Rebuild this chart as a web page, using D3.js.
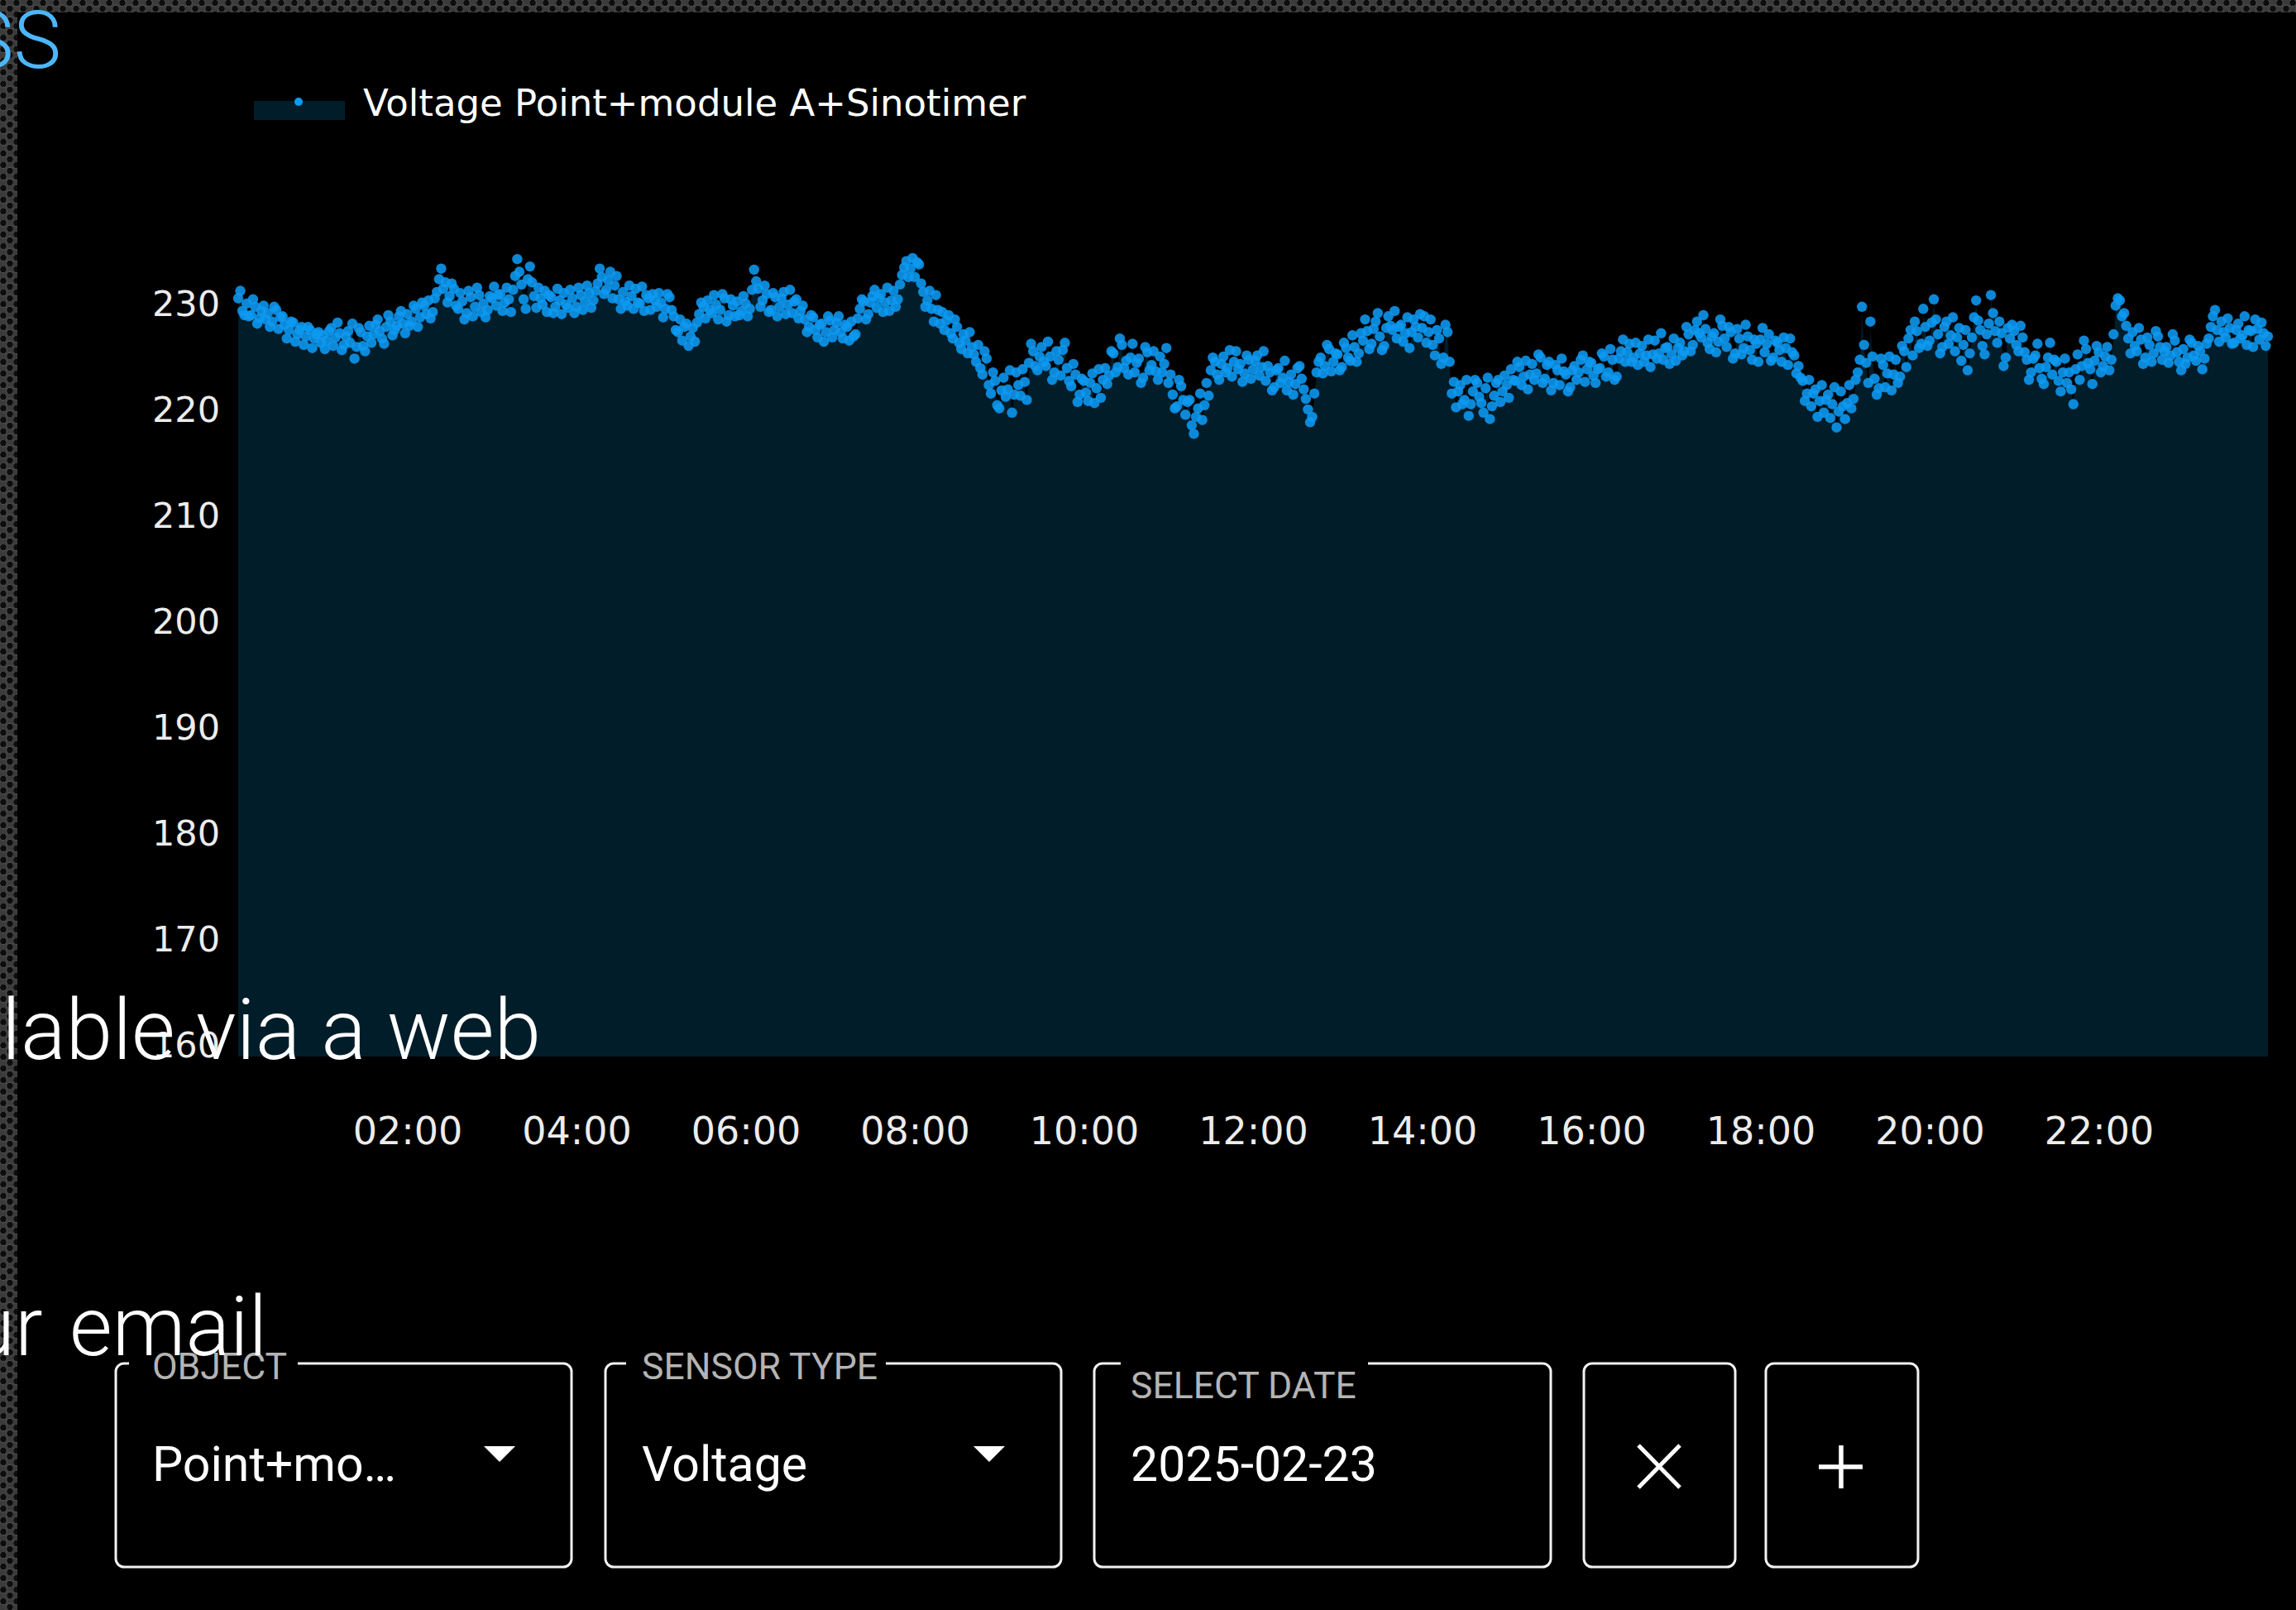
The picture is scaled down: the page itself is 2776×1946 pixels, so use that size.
<!DOCTYPE html>
<html><head><meta charset="utf-8">
<script src="https://cdn.jsdelivr.net/npm/d3@7"></script>
<style>
html,body{margin:0;padding:0;background:#000;overflow:hidden;}
svg{display:block;}
</style></head><body>
<svg id="c" width="2776" height="1946"></svg>
<script>
// ---------------- data ----------------
const seriesName = "Voltage Point+module A+Sinotimer";
const dateLabel = "2025-02-23";
const sampleSeconds = 180;   // samples on the 3-minute marks (voltageA) and 90 s later (voltageB)
const xTickLabels = ["02:00","04:00","06:00","08:00","10:00","12:00","14:00","16:00","18:00","20:00","22:00"];
const yTickValues = [160,170,180,190,200,210,220,230];
const voltageA = [
230.6,229.4,230.1,229.0,229.8,228.7,229.9,229.2,228.4,229.5,228.8,228.1,227.6,228.3,227.2,227.9,227.0,227.6,226.8,227.4,
227.1,226.6,227.8,226.9,227.3,226.2,227.5,228.2,226.0,227.4,225.6,228.0,227.2,228.6,226.8,227.9,228.4,227.6,228.9,228.2,
229.1,228.4,229.6,228.8,229.9,230.4,229.3,231.2,233.4,232.1,230.8,231.5,229.6,230.3,229.2,230.7,229.8,230.9,230.1,229.5,
230.6,229.9,231.0,230.2,230.5,231.4,234.3,231.9,229.6,233.6,230.8,231.6,230.0,229.3,230.7,229.8,230.4,231.1,229.7,230.6,
229.8,230.9,230.3,231.1,230.4,232.0,232.6,231.4,233.1,231.8,230.5,231.2,229.9,230.8,231.5,230.1,229.4,230.6,231.0,229.8,
230.2,229.6,230.7,228.9,227.4,226.6,228.2,227.0,226.5,229.1,229.8,230.4,229.2,230.0,229.5,230.6,229.0,229.9,230.3,229.4,
230.1,229.6,233.3,231.5,230.4,231.0,229.5,230.7,229.8,231.2,230.0,229.2,230.5,229.4,228.6,227.9,228.8,226.9,228.2,227.4,
228.5,227.6,228.9,226.8,227.9,228.4,227.2,229.6,230.3,229.1,230.8,229.7,231.0,230.2,229.4,231.3,230.5,232.8,234.1,233.4,
232.6,233.8,231.2,230.4,229.6,230.9,228.2,227.6,229.0,226.8,227.9,225.8,226.6,227.4,225.3,226.2,223.4,224.9,221.6,222.8,
220.2,223.1,222.0,219.8,223.6,221.4,222.7,224.5,225.6,223.8,226.0,224.2,225.1,223.6,224.8,225.7,224.0,222.3,223.4,221.5,
222.8,220.9,223.5,222.1,221.2,224.0,223.3,225.4,224.1,226.2,224.7,225.0,223.6,224.9,223.1,225.5,224.3,223.7,225.1,224.4,
222.6,221.5,220.4,222.3,219.6,221.0,217.8,220.2,219.1,222.6,223.8,224.6,222.9,225.1,224.0,223.2,225.6,224.4,223.5,224.8,
223.9,225.2,224.1,222.8,223.6,222.2,224.0,223.1,221.9,223.4,222.5,224.2,222.0,220.1,219.4,223.6,225.0,224.2,225.8,224.6,
225.3,224.1,225.9,224.7,226.0,225.4,226.6,227.5,226.3,228.4,227.0,226.1,228.9,227.6,226.8,228.1,227.3,225.9,228.6,226.9,
227.8,226.4,228.6,225.2,226.8,225.0,227.4,221.6,220.3,222.4,221.0,219.5,221.8,222.6,220.7,222.1,219.2,221.4,222.9,221.8,
222.4,223.9,222.8,224.1,223.2,222.0,224.4,223.5,225.0,223.0,224.6,222.6,223.8,224.9,223.4,222.2,224.2,223.6,225.2,223.9,
224.5,222.6,224.0,225.1,223.6,224.8,223.2,225.6,224.6,226.3,225.0,224.3,226.1,225.2,224.1,226.6,225.4,224.8,226.0,225.3,
224.7,226.4,225.6,227.2,226.2,228.4,226.9,227.7,225.8,227.3,226.5,228.0,226.0,227.4,225.4,226.8,225.9,227.0,224.8,226.3,
226.7,225.5,227.2,225.0,226.4,224.6,225.9,226.8,225.2,224.2,222.8,221.6,220.4,222.0,220.9,219.8,221.5,220.6,218.4,221.8,
219.2,222.4,221.1,223.6,229.8,224.5,228.4,223.0,222.1,224.3,223.5,221.9,224.8,223.2,225.6,226.8,225.2,227.5,226.3,227.9,
226.6,230.5,227.2,226.0,228.4,227.1,225.6,227.8,226.2,223.8,226.9,230.4,227.6,225.3,228.2,229.2,226.4,227.3,225.0,226.8,
227.5,225.6,226.9,224.8,223.6,225.2,224.0,222.5,225.0,223.4,224.6,221.8,224.9,223.6,220.6,225.3,224.2,225.8,223.9,224.7,
225.5,224.2,226.0,224.8,229.9,230.4,229.2,226.8,227.4,225.6,226.7,225.0,226.2,225.4,227.0,224.8,226.0,225.2,226.6,224.6,
225.8,225.0,226.4,224.7,225.6,224.9,226.8,228.9,227.6,228.4,226.9,227.8,226.4,228.2,227.1,226.2,227.5,228.6,226.7,227.3,
227.0
];
const voltageB = [
231.3,229.0,228.9,230.5,228.2,229.4,228.6,227.9,229.8,227.7,228.9,226.8,228.4,226.5,227.6,226.2,227.9,225.9,227.2,226.4,
225.8,227.5,226.1,228.3,225.7,227.0,226.4,224.9,227.8,226.1,227.0,226.4,228.1,227.5,226.3,229.0,227.1,228.0,229.4,227.3,
228.0,229.9,227.9,230.2,229.1,228.7,230.6,232.4,231.5,230.2,232.0,229.9,231.1,228.6,231.3,228.9,231.6,229.3,228.8,230.8,
231.7,230.9,229.4,231.6,229.3,232.7,233.1,230.5,232.4,232.1,229.7,230.6,231.3,230.9,229.2,231.5,229.1,230.0,231.4,229.2,
231.6,229.5,231.8,229.7,231.3,233.4,231.0,232.3,230.6,232.7,229.6,230.3,231.8,229.6,230.2,231.7,230.9,229.5,230.4,231.1,
228.8,231.0,229.5,227.6,228.6,227.9,226.1,227.8,228.3,230.2,228.7,229.5,230.9,228.6,231.0,228.4,230.5,228.9,229.0,230.8,
228.9,231.4,232.2,229.8,231.8,229.3,231.1,228.9,230.6,229.1,231.4,230.3,228.7,229.9,227.4,229.0,227.6,228.1,226.5,228.9,
226.9,228.3,227.4,228.1,226.6,227.0,228.7,230.5,228.6,230.2,231.4,230.6,229.3,231.6,230.4,229.8,231.9,233.5,232.6,234.4,
234.0,232.0,229.8,231.3,228.4,229.5,229.3,228.5,227.3,228.6,226.4,227.2,225.4,226.0,224.6,224.0,225.6,222.4,223.6,220.5,
221.9,221.3,223.8,221.5,222.4,223.9,221.0,226.3,224.2,225.1,224.6,226.5,222.9,225.6,223.3,226.4,222.8,224.4,220.8,223.0,
221.7,222.6,220.7,223.9,222.9,222.5,225.6,223.6,226.8,224.0,223.4,226.3,224.5,222.6,226.0,223.8,225.6,222.9,223.6,225.9,
223.4,220.2,222.9,221.0,220.8,218.6,219.4,221.6,220.5,221.4,225.0,223.4,224.4,223.6,225.7,224.6,223.9,222.7,225.2,223.0,
224.7,223.3,225.6,224.2,221.9,223.8,222.6,224.7,222.7,221.5,224.0,223.0,221.1,218.9,221.6,224.6,223.5,226.2,223.7,225.4,
223.8,226.4,225.0,227.1,224.6,227.3,228.6,225.8,227.7,229.2,225.7,227.8,228.0,229.4,227.9,226.5,228.8,227.4,227.9,229.1,
228.9,227.4,226.2,227.6,224.4,228.1,224.6,222.7,221.8,220.6,222.9,220.6,222.9,221.3,219.8,223.1,220.4,222.6,220.8,223.3,
221.2,222.9,224.6,222.4,224.7,223.4,222.9,225.3,222.6,224.3,221.9,224.3,222.4,223.7,221.8,223.8,222.9,224.8,222.7,224.6,
223.3,223.9,225.4,223.2,225.8,222.9,224.9,226.7,225.5,224.6,226.4,225.4,224.6,226.7,225.3,224.9,227.3,225.9,224.4,226.8,
225.9,225.2,227.9,225.6,227.6,227.3,229.0,226.4,227.0,225.5,228.6,226.8,227.9,224.9,227.7,225.3,228.1,225.7,226.7,224.6,
227.8,226.3,224.7,226.6,225.7,226.9,224.3,225.5,223.5,223.1,220.9,222.9,221.6,219.4,222.4,221.0,219.3,222.2,219.9,220.4,
220.7,220.2,222.9,224.8,226.2,222.6,225.1,221.5,224.9,222.2,225.1,223.4,222.6,226.1,224.1,227.6,228.4,225.9,229.6,226.1,
228.3,228.6,225.4,227.9,226.3,228.8,226.9,224.7,227.6,225.4,228.8,228.5,226.1,227.2,230.9,227.5,228.4,224.2,227.8,228.1,
226.2,228.0,225.5,222.9,224.9,226.3,223.0,224.1,226.4,224.8,222.8,223.6,222.6,222.0,223.9,222.9,226.6,224.5,222.5,226.1,
223.6,225.1,223.8,227.2,230.6,228.9,228.0,225.4,226.1,227.8,224.4,226.9,224.6,227.5,226.0,225.6,224.5,227.2,225.5,223.8,
224.4,226.7,225.2,226.1,223.9,226.3,227.9,229.5,226.5,227.4,228.7,226.3,227.6,226.8,228.9,227.6,226.0,227.7,228.3,226.1
];
const fieldLabels = ["OBJECT","SENSOR TYPE","SELECT DATE"];
const fieldValues = ["Point+mo\u2026","Voltage",dateLabel];
const overlayTitle = "SS";
const overlayLine1 = "lable via a web";
const overlayLine2 = "ur email";

// ---------------- drawing ----------------
const svg = d3.select("#c");
const W = 2776, H = 1946;
const defs = svg.append("defs");
const pat = defs.append("pattern").attr("id","perf").attr("width",16).attr("height",14)
  .attr("patternUnits","userSpaceOnUse");
pat.append("rect").attr("width",16).attr("height",14).attr("fill","#3b3b3b");
pat.append("circle").attr("cx",4).attr("cy",3.5).attr("r",4.3).attr("fill","#0d0d0d").attr("stroke","#575757").attr("stroke-width",1);
pat.append("circle").attr("cx",12).attr("cy",10.5).attr("r",4.3).attr("fill","#0d0d0d").attr("stroke","#575757").attr("stroke-width",1);

svg.append("rect").attr("width",W).attr("height",H).attr("fill","#000");
svg.append("rect").attr("x",0).attr("y",0).attr("width",W).attr("height",15).attr("fill","url(#perf)");
svg.append("rect").attr("x",0).attr("y",0).attr("width",21).attr("height",H).attr("fill","url(#perf)");

const plotL = 288, plotR = 2742, plotB = 1277;
const day = d3.timeParse("%Y-%m-%d")(dateLabel);
const x = d3.scaleTime().domain([day, d3.timeDay.offset(day,1)]).range([plotL, plotR]);
const y = d3.scaleLinear().domain([159, 236]).range([plotB, plotB - 77*12.8]);

const data = [];
voltageA.forEach((v,i)=>{
  data.push({t: d3.timeSecond.offset(day, i*sampleSeconds), v});
  if (i < voltageB.length) data.push({t: d3.timeSecond.offset(day, i*sampleSeconds + sampleSeconds/2), v: voltageB[i]});
});

const navy = "#011d2a";
const blue = "#0e9af2";

svg.append("path").datum(data)
  .attr("fill", navy)
  .attr("d", d3.area().x(d=>x(d.t)).y0(plotB).y1(d=>y(d.v)));
svg.append("path").datum(data)
  .attr("fill","none").attr("stroke","#000").attr("stroke-opacity",0.6).attr("stroke-width",1.2)
  .attr("d", d3.line().x(d=>x(d.t)).y(d=>y(d.v)));
svg.append("g").selectAll("circle").data(data).join("circle")
  .attr("cx", d=>x(d.t)).attr("cy", d=>y(d.v)).attr("r",6.2)
  .attr("fill", blue).attr("fill-opacity",0.88);

// y axis
const yAxis = svg.append("g").attr("transform",`translate(${plotL},0)`)
  .call(d3.axisLeft(y).tickValues(yTickValues).tickSize(0).tickPadding(22).tickFormat(d3.format("d")));
yAxis.select(".domain").remove();
yAxis.selectAll("text").attr("fill","#ececec").attr("font-size",43).attr("font-family","DejaVu Sans, Verdana, sans-serif");

// x axis
const tp = d3.timeParse("%Y-%m-%d %H:%M");
const xTicks = xTickLabels.map(s=>tp(dateLabel+" "+s));
const xAxis = svg.append("g").attr("transform",`translate(0,${plotB})`)
  .call(d3.axisBottom(x).tickValues(xTicks).tickSize(0).tickPadding(0).tickFormat(d3.timeFormat("%H:%M")));
xAxis.select(".domain").remove();
xAxis.selectAll("text").attr("y",90).attr("dy","0.35em").attr("fill","#ececec")
  .attr("font-size",46).attr("font-family","DejaVu Sans, Verdana, sans-serif");

// legend
const lg = svg.append("g");
lg.append("rect").attr("x",307).attr("y",122).attr("width",110).attr("height",23).attr("fill",navy);
lg.append("circle").attr("cx",361).attr("cy",123).attr("r",5).attr("fill",blue);
lg.append("text").attr("x",439).attr("y",140).text(seriesName)
  .attr("fill","#fff").attr("font-size",45).attr("font-family","DejaVu Sans, Verdana, sans-serif");

// controls
const boxes = [
  {x:140, w:551, gap:[156,360], label:0, labelY:1667, arrow:true},
  {x:732, w:551, gap:[757,1071], label:1, labelY:1667, arrow:true},
  {x:1323, w:552, gap:[1355,1654], label:2, labelY:1690, arrow:false}
];
const bTop = 1648, bH = 246;
const ctl = svg.append("g");
boxes.forEach(b=>{
  ctl.append("rect").attr("x",b.x).attr("y",bTop).attr("width",b.w).attr("height",bH)
    .attr("rx",10).attr("fill","none").attr("stroke","#f2f2f2").attr("stroke-width",3);
  ctl.append("rect").attr("x",b.gap[0]).attr("y",bTop-4).attr("width",b.gap[1]-b.gap[0]).attr("height",8).attr("fill","#000");
  ctl.append("text").attr("x",b.x+44).attr("y",b.labelY).text(fieldLabels[b.label])
    .attr("fill","#b4b4b4").attr("font-size",44.5).attr("font-family","Roboto, sans-serif");
  ctl.append("text").attr("x",b.x+44).attr("y",1790).text(fieldValues[b.label])
    .attr("fill","#fff").attr("font-size",59).attr("font-family","Roboto, sans-serif");
  if (b.arrow) {
    const ax = b.x + 445;
    ctl.append("path").attr("d",`M${ax},1748 L${ax+38},1748 L${ax+19},1767 Z`).attr("fill","#fff");
  }
});
ctl.append("rect").attr("x",1915).attr("y",bTop).attr("width",183).attr("height",bH)
  .attr("rx",10).attr("fill","none").attr("stroke","#f2f2f2").attr("stroke-width",3);
ctl.append("path").attr("d","M1981,1747 L2031,1798 M2031,1747 L1981,1798")
  .attr("stroke","#fff").attr("stroke-width",5).attr("fill","none");
ctl.append("rect").attr("x",2135).attr("y",bTop).attr("width",184).attr("height",bH)
  .attr("rx",10).attr("fill","none").attr("stroke","#f2f2f2").attr("stroke-width",3);
ctl.append("path").attr("d","M2199,1773 L2252,1773 M2226,1747 L2226,1799")
  .attr("stroke","#fff").attr("stroke-width",5.5).attr("fill","none");

// overlay slide text
const ov = svg.append("g").attr("font-family","Roboto, 'Liberation Sans', sans-serif").attr("font-weight",300);
ov.append("text").attr("x",74).attr("y",82).attr("text-anchor","end").text(overlayTitle)
  .attr("fill","#4cb6fb").attr("font-size",97);
ov.append("text").attr("x",2).attr("y",1280).text(overlayLine1)
  .attr("fill","#fff").attr("font-size",102);
ov.append("text").attr("x",323).attr("y",1638).attr("text-anchor","end").attr("word-spacing",8).text(overlayLine2)
  .attr("fill","#fff").attr("font-size",100);
</script>
</body></html>
